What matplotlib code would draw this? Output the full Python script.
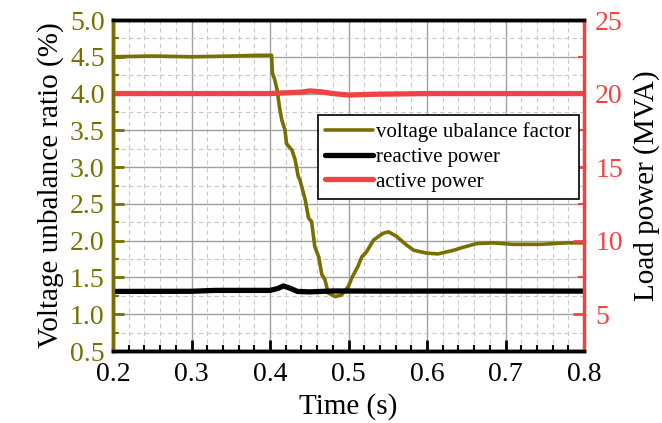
import numpy as np
import matplotlib.pyplot as plt
from matplotlib.ticker import MultipleLocator

plt.rcParams['font.family'] = ['Liberation Serif', 'DejaVu Serif']

OLIVE = '#777000'
RED = '#f04444'

# voltage unbalance factor (%)
t_vuf = [0.200, 0.250, 0.300, 0.350, 0.387, 0.402, 0.403, 0.406, 0.409, 0.412, 0.415,
         0.419, 0.421, 0.428, 0.432, 0.436, 0.438, 0.445, 0.449, 0.453, 0.457,
         0.462, 0.466, 0.470, 0.474, 0.483, 0.491, 0.500, 0.504, 0.512, 0.517,
         0.523, 0.532, 0.544, 0.551, 0.561, 0.574, 0.583, 0.600, 0.614, 0.634,
         0.646, 0.663, 0.684, 0.710, 0.744, 0.778, 0.800]
vuf = [4.50, 4.51, 4.50, 4.51, 4.52, 4.52, 4.28, 4.19, 4.05, 3.82, 3.64,
       3.51, 3.32, 3.23, 3.10, 2.87, 2.83, 2.55, 2.31, 2.26, 1.92,
       1.78, 1.54, 1.47, 1.29, 1.24, 1.26, 1.38, 1.49, 1.65, 1.78,
       1.85, 2.01, 2.10, 2.12, 2.06, 1.94, 1.87, 1.83, 1.82, 1.87,
       1.91, 1.96, 1.97, 1.95, 1.95, 1.97, 1.97]

# reactive power (MVA)
t_q = [0.20, 0.30, 0.33, 0.36, 0.40, 0.410, 0.417, 0.425, 0.435, 0.450, 0.48, 0.55, 0.65, 0.80]
q = [6.55, 6.56, 6.62, 6.62, 6.62, 6.75, 6.92, 6.78, 6.55, 6.52, 6.58, 6.57, 6.58, 6.57]

# active power (MVA)
t_p = [0.20, 0.30, 0.40, 0.42, 0.44, 0.451, 0.465, 0.48, 0.50, 0.53, 0.60, 0.80]
p = [20.0, 20.0, 20.0, 20.05, 20.1, 20.18, 20.12, 20.0, 19.9, 19.95, 20.0, 20.0]

fig = plt.figure(figsize=(6.62, 4.23), dpi=100)
ax = fig.add_axes([0.1707, 0.1702, 0.7115, 0.7825])
ax2 = ax.twinx()

ax.set_xlim(0.2, 0.8)
ax.set_ylim(0.5, 5.0)
ax2.set_ylim(2.5, 25)

ax.xaxis.set_major_locator(MultipleLocator(0.1))
ax.xaxis.set_minor_locator(MultipleLocator(0.02))
ax.yaxis.set_major_locator(MultipleLocator(0.5))
ax.yaxis.set_minor_locator(MultipleLocator(0.25))
ax2.yaxis.set_major_locator(MultipleLocator(5))
ax2.yaxis.set_minor_locator(MultipleLocator(2.5))

ax.grid(which='major', color='#a0a0a0', lw=1.0, ls='-')
ax.grid(which='minor', color='#c8c8c8', lw=0.8, ls=(0, (4, 3)))
ax.set_axisbelow(True)

l1, = ax.plot(t_vuf, vuf, color=OLIVE, lw=2.6, solid_capstyle='round', zorder=3)
l2, = ax2.plot(t_q, q, color='black', lw=3.8, solid_capstyle='round')
l3, = ax2.plot(t_p, p, color=RED, lw=3.8, solid_capstyle='round')

# tick marks and spines
ax.tick_params(axis='x', which='major', direction='in', length=8, width=2, colors='black', labelsize=20, pad=8)
ax.tick_params(axis='x', which='minor', direction='in', length=4, width=1.5, colors='black')
ax.tick_params(axis='y', which='major', direction='in', length=8, width=2, colors=OLIVE, labelsize=20, pad=6)
ax.tick_params(axis='y', which='minor', direction='in', length=4, width=1.5, colors=OLIVE)
ax2.tick_params(axis='y', which='major', direction='in', length=8, width=2, colors=RED, labelsize=20, pad=8)
ax2.tick_params(axis='y', which='minor', direction='in', length=4, width=1.5, colors=RED)

for a in (ax, ax2):
    a.spines['top'].set_color('black')
    a.spines['bottom'].set_color('black')
    for s in a.spines.values():
        s.set_linewidth(2.5)
ax2.spines['left'].set_color(OLIVE)
ax2.spines['right'].set_color(RED)
ax.spines['left'].set_color(OLIVE)
ax.spines['right'].set_visible(False)

ax.set_xticklabels([f'{v:.1f}' for v in ax.get_xticks()])
ax.set_yticklabels([f'{v:.1f}' for v in ax.get_yticks()])

ax.set_xlabel('Time (s)', fontsize=21, labelpad=4)
ax.set_ylabel('Voltage unbalance ratio (%)', fontsize=21, labelpad=4)
ax2.set_ylabel('Load power (MVA)', fontsize=21, labelpad=7)

leg = ax2.legend([l1, l2, l3], ['voltage ubalance factor', 'reactive power', 'active power'],
                 loc='upper left', bbox_to_anchor=(0.435, 0.713), fontsize=15,
                 frameon=True, fancybox=False, edgecolor='black', framealpha=1,
                 handlelength=2.3, handletextpad=0.15, borderpad=0.35, labelspacing=0.25,
                 borderaxespad=0)
leg.get_frame().set_linewidth(1.2)

fig.savefig('out.png', dpi=100)
